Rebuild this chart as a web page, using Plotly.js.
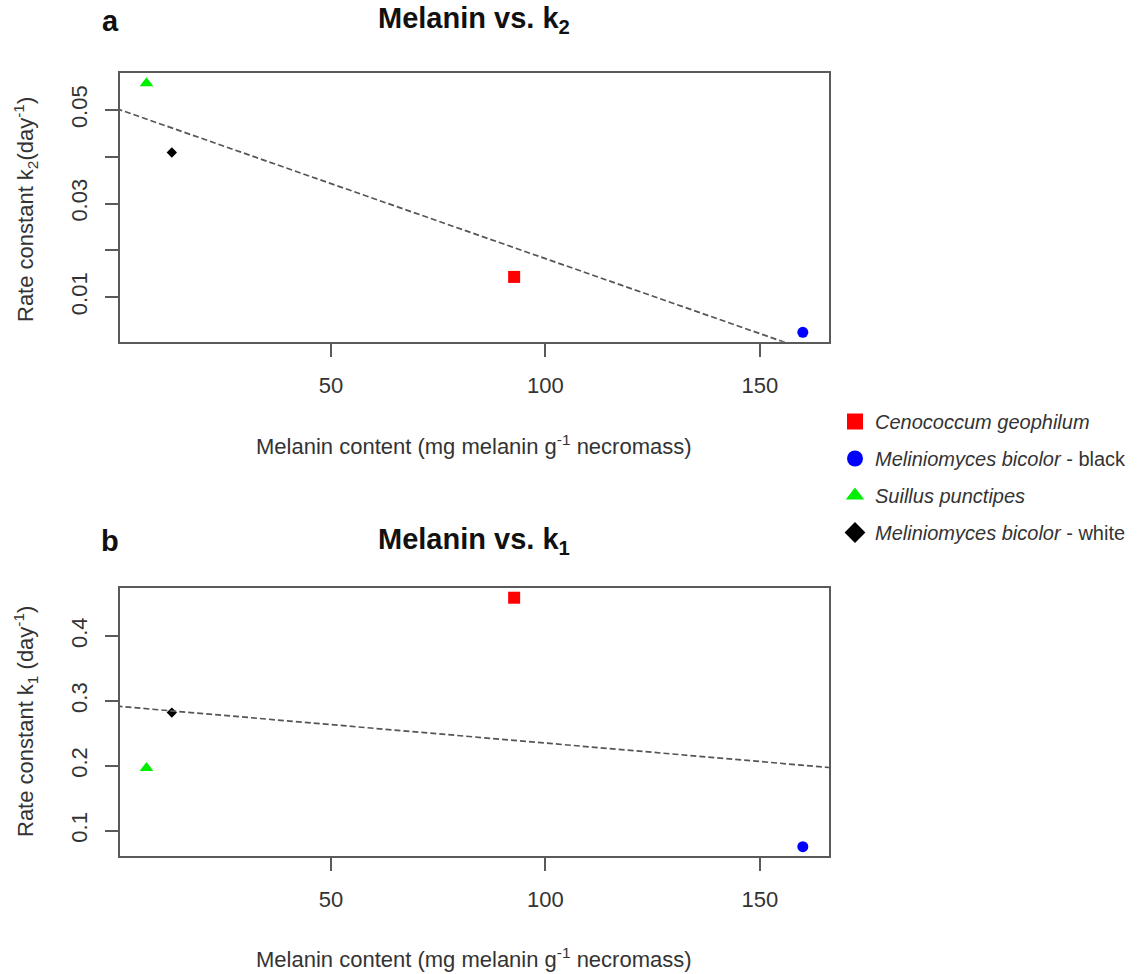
<!DOCTYPE html>
<html>
<head>
<meta charset="utf-8">
<script src="https://cdn.plot.ly/plotly-3.0.1.min.js"></script>
<style>html,body{margin:0;padding:0;background:#fff;}#chart{width:1144px;height:974px;}</style>
</head>
<body>
<div id="chart"></div>
<script>
// ---- data ----
var species = ['Cenococcum geophilum', 'Meliniomyces bicolor - black', 'Suillus punctipes', 'Meliniomyces bicolor - white'];
var legendLabels = ['<i>Cenococcum geophilum</i>', '<i>Meliniomyces bicolor</i> - black', '<i>Suillus punctipes</i>', '<i>Meliniomyces bicolor</i> - white'];
var melanin = [92.7, 160.0, 7.0, 12.9];
var k2 = [0.0143, 0.00245, 0.0557, 0.0409];
var k1 = [0.459, 0.0753, 0.1965, 0.282];
var colors = ['#ff0000', '#0000ff', '#00ee00', '#000000'];
var symbols = ['square', 'circle', 'triangle-up', 'diamond'];
var markerSizes = [12, 11, 12, 8];
// fitted (dashed) lines: end points
var fitA_x = [0, 166.1];
var fitA_y = [0.0503, -0.0030];
var fitB_x = [0, 166.1];
var fitB_y = [0.2919, 0.1974];
// ticks
var xTicks = [50, 100, 150];
var yTicksA = [0.01, 0.03, 0.05];      // labelled ticks
var yMinorStepA = 0.01;                // unlabelled ticks every 0.01
var yTicksB = [0.1, 0.2, 0.3, 0.4];

var W = 1144, H = 974;
function px(x) { return x / W; }
function py(y) { return 1 - y / H; }

var FONT = 'Arial, "Liberation Sans", Helvetica, sans-serif';
var traces = [];

for (var i = 0; i < species.length; i++) {
  traces.push({
    type: 'scatter', mode: 'markers', x: [melanin[i]], y: [k2[i]],
    xaxis: 'x', yaxis: 'y', name: species[i], showlegend: false,
    marker: {symbol: symbols[i], color: colors[i], size: markerSizes[i], line: {width: 0}},
    cliponaxis: false, hoverinfo: 'x+y+name'
  });
  traces.push({
    type: 'scatter', mode: 'markers', x: [melanin[i]], y: [k1[i]],
    xaxis: 'x2', yaxis: 'y2', name: species[i], showlegend: false,
    marker: {symbol: symbols[i], color: colors[i], size: markerSizes[i], line: {width: 0}},
    cliponaxis: false, hoverinfo: 'x+y+name'
  });
}
traces.push({type: 'scatter', mode: 'lines', x: fitA_x, y: fitA_y, xaxis: 'x', yaxis: 'y',
  showlegend: false, line: {color: '#555555', width: 1.7, dash: '6px,3px'}, hoverinfo: 'skip'});
traces.push({type: 'scatter', mode: 'lines', x: fitB_x, y: fitB_y, xaxis: 'x2', yaxis: 'y2',
  showlegend: false, line: {color: '#555555', width: 1.7, dash: '6px,3px'}, hoverinfo: 'skip'});

for (var j = 0; j < species.length; j++) {
  traces.push({
    type: 'scatter', mode: 'markers', x: [null], y: [null], xaxis: 'x', yaxis: 'y',
    name: legendLabels[j], legendgroup: 'g' + j, showlegend: true,
    marker: {symbol: symbols[j], color: colors[j], size: 16, line: {width: 0}}
  });
}

var axisCommon = {
  showgrid: false, zeroline: false, showline: true, mirror: true,
  linecolor: '#5a5a5a', linewidth: 2, ticks: 'outside', ticklen: 13, tickwidth: 2, tickcolor: '#5a5a5a',
  tickfont: {family: FONT, size: 22, color: '#333333'}, fixedrange: true
};
function ax(extra) { var o = {}; var k; for (k in axisCommon) o[k] = axisCommon[k]; for (k in extra) o[k] = extra[k]; return o; }

var xDom = [px(120), px(829)];
var layout = {
  width: W, height: H, margin: {l: 0, r: 0, t: 0, b: 0},
  paper_bgcolor: '#ffffff', plot_bgcolor: '#ffffff',
  font: {family: FONT, color: '#333333'},
  showlegend: true,
  xaxis: ax({domain: xDom, anchor: 'y', range: [0.82, 166.1], tickmode: 'array', tickvals: xTicks, ticklabelstandoff: 10}),
  yaxis: ax({domain: [py(341.7), py(73.3)], anchor: 'x', range: [0.00044, 0.05785], tickmode: 'array', tickvals: yTicksA,
    tickangle: -90, ticklabelstandoff: 9,
    minor: {tick0: 0, dtick: yMinorStepA, ticks: 'outside', ticklen: 13, tickwidth: 2, tickcolor: '#5a5a5a', showgrid: false}}),
  xaxis2: ax({domain: xDom, anchor: 'y2', range: [0.82, 166.1], tickmode: 'array', tickvals: xTicks, ticklabelstandoff: 10}),
  yaxis2: ax({domain: [py(856), py(588.3)], anchor: 'x2', range: [0.061, 0.4735], tickmode: 'array', tickvals: yTicksB, tickangle: -90, ticklabelstandoff: 9}),
  legend: {
    x: px(835), y: py(402), xanchor: 'left', yanchor: 'top',
    font: {family: FONT, size: 20, color: '#333333'},
    bgcolor: 'rgba(0,0,0,0)', borderwidth: 0, tracegroupgap: 8, traceorder: 'grouped', itemwidth: 30
  },
  annotations: [
    {xref: 'paper', yref: 'paper', x: px(110), y: py(21), text: '<b>a</b>', showarrow: false, xanchor: 'center', yanchor: 'middle', font: {family: FONT, size: 29, color: '#111111'}},
    {xref: 'paper', yref: 'paper', x: px(474), y: py(20), text: '<b>Melanin vs. k<sub>2</sub></b>', showarrow: false, xanchor: 'center', yanchor: 'middle', font: {family: FONT, size: 29, color: '#111111'}},
    {xref: 'paper', yref: 'paper', x: px(110), y: py(541), text: '<b>b</b>', showarrow: false, xanchor: 'center', yanchor: 'middle', font: {family: FONT, size: 29, color: '#111111'}},
    {xref: 'paper', yref: 'paper', x: px(474), y: py(541), text: '<b>Melanin vs. k<sub>1</sub></b>', showarrow: false, xanchor: 'center', yanchor: 'middle', font: {family: FONT, size: 29, color: '#111111'}},
    {xref: 'paper', yref: 'paper', x: px(474), y: py(445), text: 'Melanin content (mg melanin g<sup>-1</sup> necromass)', showarrow: false, xanchor: 'center', yanchor: 'middle', font: {family: FONT, size: 22, color: '#333333'}},
    {xref: 'paper', yref: 'paper', x: px(474), y: py(958), text: 'Melanin content (mg melanin g<sup>-1</sup> necromass)', showarrow: false, xanchor: 'center', yanchor: 'middle', font: {family: FONT, size: 22, color: '#333333'}},
    {xref: 'paper', yref: 'paper', x: px(25), y: py(210), text: 'Rate constant k<sub>2</sub>(day<sup>-1</sup>)', textangle: -90, showarrow: false, xanchor: 'center', yanchor: 'middle', font: {family: FONT, size: 22, color: '#333333'}},
    {xref: 'paper', yref: 'paper', x: px(25), y: py(722), text: 'Rate constant k<sub>1</sub> (day<sup>-1</sup>)', textangle: -90, showarrow: false, xanchor: 'center', yanchor: 'middle', font: {family: FONT, size: 22, color: '#333333'}}
  ]
};

Plotly.newPlot('chart', traces, layout, {displayModeBar: false});
</script>
</body>
</html>
